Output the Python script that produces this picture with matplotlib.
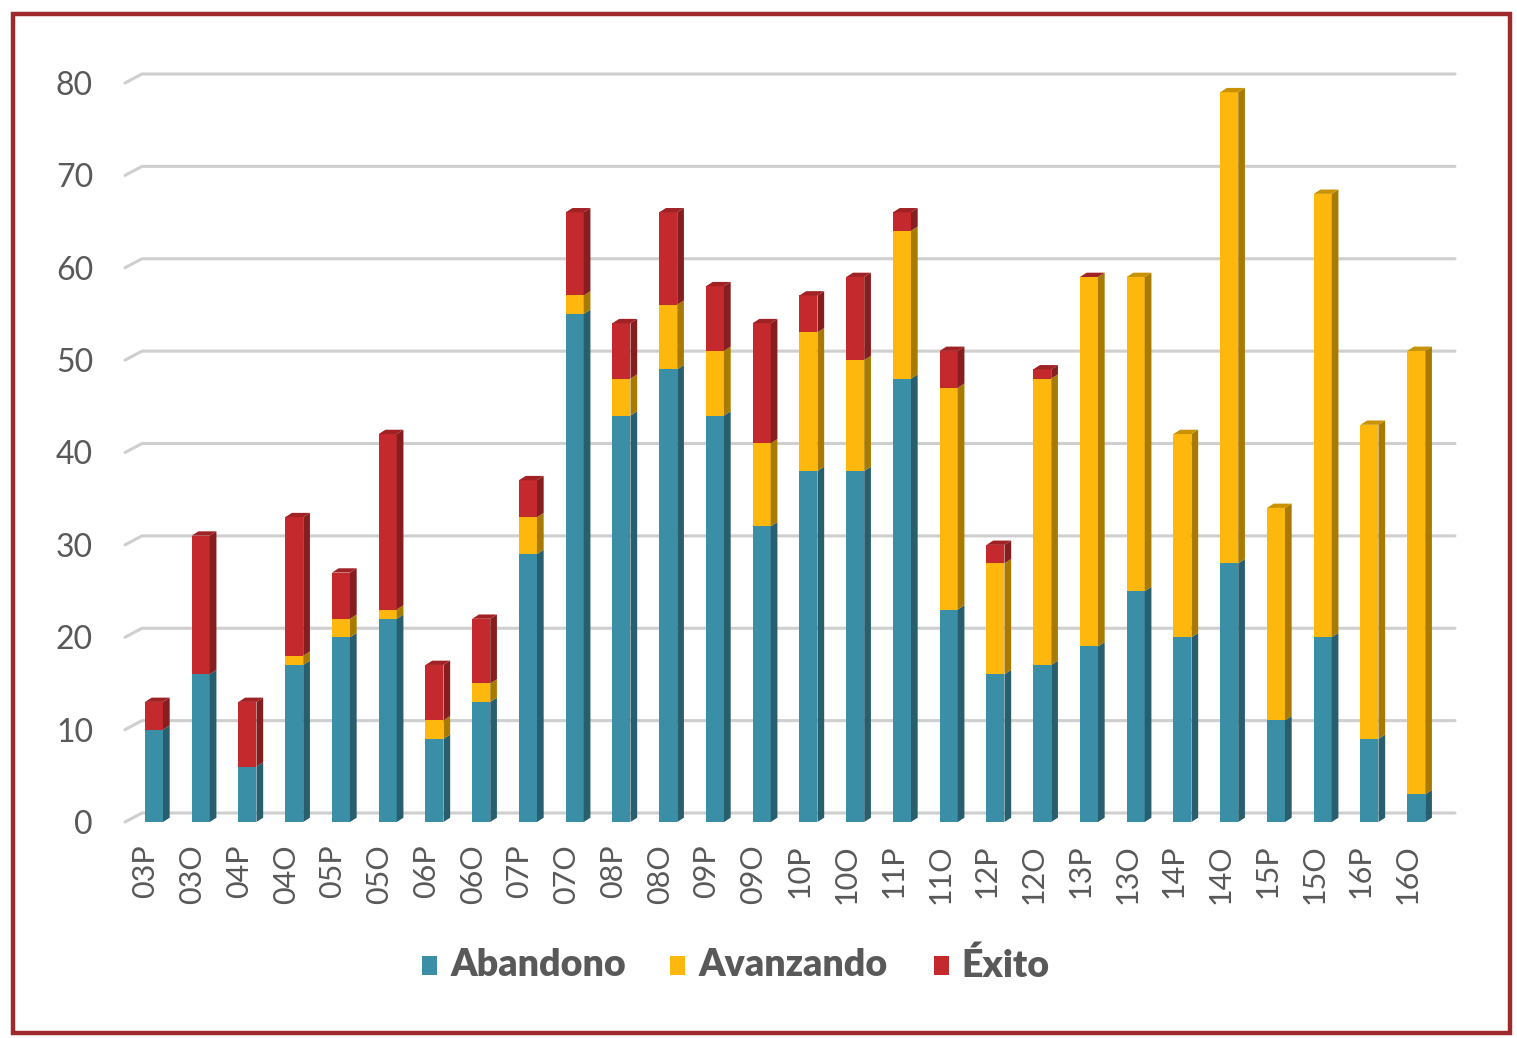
import numpy as np
import matplotlib
matplotlib.use("Agg")
import matplotlib.pyplot as plt
from matplotlib.patches import Polygon, Rectangle
from matplotlib.transforms import ScaledTranslation

# Data
periodos = ["03P", "03O", "04P", "04O", "05P", "05O", "06P", "06O", "07P", "07O",
            "08P", "08O", "09P", "09O", "10P", "10O", "11P", "11O", "12P", "12O",
            "13P", "13O", "14P", "14O", "15P", "15O", "16P", "16O"]
abandono = [10, 16, 6, 17, 20, 22, 9, 13, 29, 55,
            44, 49, 44, 32, 38, 38, 48, 23, 16, 17,
            19, 25, 20, 28, 11, 20, 9, 3]
avanzando = [0, 0, 0, 1, 2, 1, 2, 2, 4, 2,
             4, 7, 7, 9, 15, 12, 16, 24, 12, 31,
             40, 34, 22, 51, 23, 48, 34, 48]
exito = [3, 15, 7, 15, 5, 19, 6, 7, 4, 9,
         6, 10, 7, 13, 4, 9, 2, 4, 2, 1,
         0, np.nan, np.nan, np.nan, np.nan, np.nan, np.nan, np.nan]

series_names = ["Abandono", "Avanzando", "Éxito"]
front_cols = ["#3a8fa6", "#fdb70d", "#c3292d"]
side_cols = ["#285f6e", "#a87a00", "#861d1f"]
top_cols = ["#2f7587", "#c99200", "#a02225"]

W, H = 1517, 1038
fig = plt.figure(figsize=(W / 100, H / 100), dpi=100)
fig.patch.set_facecolor("white")

# axes placed in pixel terms
x0_px, x1_px = 132, 1441
y0_px, y1_px = 822, 83
ax = fig.add_axes([x0_px / W, 1 - y0_px / H, (x1_px - x0_px) / W, (y0_px - y1_px) / H])
n = len(periodos)
ax.set_xlim(-0.5, n - 0.5)
ax.set_ylim(0, 80)
for s in ax.spines.values():
    s.set_visible(False)

px_x = (x1_px - x0_px) / n
px_y = (y0_px - y1_px) / 80

# gridlines with a 3D back wall
gdx, gdy = 17 / px_x, 9 / px_y
gx_left = -0.5 + (125 - x0_px) / px_x
gx_right = -0.5 + (1455 - x0_px) / px_x
for v in range(0, 81, 10):
    ax.plot([gx_left, gx_left + gdx, gx_right], [v, v + gdy, v + gdy],
            color="#cfcfcf", lw=2.2, clip_on=False, zorder=1, solid_capstyle="round")

# 3D stacked bars
w = 18 / px_x
bdx, bdy = 6.7 / px_x, 4.3 / px_y
data = [abandono, avanzando, exito]
for i in range(n):
    xl = i - w / 2 - 0.03
    xr = xl + w
    base = 0
    last = None
    for k in range(3):
        v = data[k][i]
        if v is None or np.isnan(v):
            continue
        last = k
        if v == 0:
            continue
        top = base + v
        ax.add_patch(Rectangle((xl, base), w, v, facecolor=front_cols[k],
                               edgecolor="none", zorder=3, clip_on=False))
        ax.add_patch(Polygon([(xr, base), (xr + bdx, base + bdy), (xr + bdx, top + bdy), (xr, top)],
                             closed=True, facecolor=side_cols[k], edgecolor="none",
                             zorder=3, clip_on=False))
        base = top
    if last is not None:
        ax.add_patch(Polygon([(xl, base), (xr, base), (xr + bdx, base + bdy), (xl + bdx, base + bdy)],
                             closed=True, facecolor=top_cols[last], edgecolor="none",
                             zorder=3, clip_on=False))

# ticks and labels
txt_col = "#595959"
ax.set_yticks(range(0, 81, 10))
ax.set_yticklabels([str(v) for v in range(0, 81, 10)], fontsize=23, color=txt_col,
                   family=["Lato", "DejaVu Sans"])
ax.tick_params(axis="y", length=0, pad=28)
ax.set_xticks(range(n))
ax.set_xticklabels(periodos, rotation=90, fontsize=22, color=txt_col,
                   family=["Lato", "DejaVu Sans"], va="top", ha="center")
ax.tick_params(axis="x", length=0, pad=16)
off = ScaledTranslation(-10 / 100, 0, fig.dpi_scale_trans)
for lab in ax.get_xticklabels():
    lab.set_transform(lab.get_transform() + off)

# legend drawn by hand
leg_y = 965
for k, (sx, tx) in enumerate([(422, 450), (670, 698), (934, 961)]):
    fig.patches.append(Rectangle((sx / W, 1 - (leg_y + 10) / H), 15 / W, 19 / H,
                                 transform=fig.transFigure, facecolor=front_cols[k],
                                 edgecolor="none"))
    fig.text(tx / W, 1 - leg_y / H, series_names[k], fontsize=27, fontweight="heavy",
             color=txt_col, va="center", ha="left", family=["Lato", "DejaVu Sans"])

# dark red frame
fig.patches.append(Rectangle((13 / W, 1 - 1033 / H), (1510 - 13) / W, (1033 - 14) / H,
                             transform=fig.transFigure, facecolor="none",
                             edgecolor="#9e2a2c", lw=3.2))

fig.savefig("out.png", dpi=100)
